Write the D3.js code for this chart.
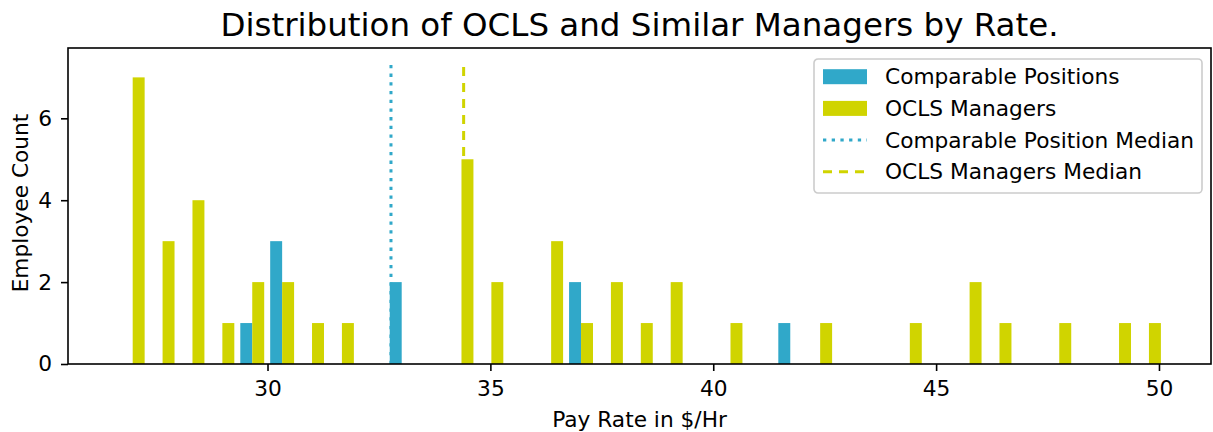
<!DOCTYPE html>
<html>
<head>
<meta charset="utf-8">
<script src="https://cdn.jsdelivr.net/npm/d3@7"></script>
<style>
  body { margin: 0; background: #fff; }
  svg { display: block; font-family: "DejaVu Sans", sans-serif; }
</style>
</head>
<body>
<div class="chart"></div>
<script>
// histogram bins (pay rate range split in equal bins)
const rateMin = 26.64;
const rateMax = 50.11;
const binTotal = 35;

const comparableCounts = [0,0,0,0,1,3,0,0,0,2,0,0,0,0,0,2,0,0,0,0,0,0,1,0,0,0,0,0,0,0,0,0,0,0,0];
const managerCounts = [7,3,4,1,2,2,1,1,0,0,0,5,2,0,3,1,2,1,2,0,1,0,0,1,0,0,1,0,2,1,0,1,0,1,1];

const comparableMedian = 32.77;
const managerMedian = 34.40;
const medianTop = 7.35;

const xTicks = [30, 35, 40, 45, 50];
const yTicks = [0, 2, 4, 6];

const blue = '#30a8c9';
const yellow = '#d0d400';
const fs = '21.7px';

const W = 1213, H = 432;
const margin = { top: 48, right: 2, bottom: 68, left: 68 };
const width = W - margin.left - margin.right;
const height = H - margin.top - margin.bottom;

const svg = d3.select('.chart').append('svg')
    .attr('width', W)
    .attr('height', H);

const g = svg.append('g')
    .attr('transform', `translate(${margin.left},${margin.top})`);

const x = d3.scaleLinear().domain([25.524, 51.167]).range([0, width]);
const y = d3.scaleLinear().domain([0, 7.7175]).range([height, 0]);

const binW = (rateMax - rateMin) / binTotal;
const bins = d3.range(binTotal).map(i => ({
    x0: rateMin + i * binW,
    x1: rateMin + (i + 1) * binW,
    comp: comparableCounts[i],
    ocls: managerCounts[i]
}));

// median lines (drawn under the bars)
g.append('line')
    .attr('x1', x(comparableMedian)).attr('x2', x(comparableMedian))
    .attr('y1', y(0)).attr('y2', y(medianTop))
    .attr('stroke', blue).attr('stroke-width', 3)
    .attr('stroke-dasharray', '3.3,5.4');

g.append('line')
    .attr('x1', x(managerMedian)).attr('x2', x(managerMedian))
    .attr('y1', y(0)).attr('y2', y(medianTop))
    .attr('stroke', yellow).attr('stroke-width', 3)
    .attr('stroke-dasharray', '9,7');

// bars
g.selectAll('.comp').data(bins.filter(d => d.comp > 0)).enter()
    .append('rect')
    .attr('class', 'comp')
    .attr('x', d => x(d.x0 + 0.1 * binW))
    .attr('width', d => x(d.x0 + 0.5 * binW) - x(d.x0 + 0.1 * binW))
    .attr('y', d => y(d.comp))
    .attr('height', d => y(0) - y(d.comp))
    .attr('fill', blue);

g.selectAll('.ocls').data(bins.filter(d => d.ocls > 0)).enter()
    .append('rect')
    .attr('class', 'ocls')
    .attr('x', d => x(d.x0 + 0.5 * binW))
    .attr('width', d => x(d.x0 + 0.9 * binW) - x(d.x0 + 0.5 * binW))
    .attr('y', d => y(d.ocls))
    .attr('height', d => y(0) - y(d.ocls))
    .attr('fill', yellow);

// axes
const xAxis = g.append('g')
    .attr('transform', `translate(0,${height})`)
    .call(d3.axisBottom(x).tickValues(xTicks).tickSize(7).tickPadding(9.5));
const yAxis = g.append('g')
    .call(d3.axisLeft(y).tickValues(yTicks).tickSize(7).tickPadding(9));

[xAxis, yAxis].forEach(a => {
    a.select('.domain').remove();
    a.selectAll('line').attr('stroke', '#000').attr('stroke-width', 1.6);
    a.selectAll('text')
        .style('font-family', '"DejaVu Sans", sans-serif')
        .style('font-size', fs)
        .attr('fill', '#000');
});

// frame
g.append('rect')
    .attr('width', width).attr('height', height)
    .attr('fill', 'none')
    .attr('stroke', '#000').attr('stroke-width', 1.6);

// labels
svg.append('text')
    .attr('x', margin.left + width / 2)
    .attr('y', 36)
    .attr('text-anchor', 'middle')
    .style('font-size', '32.5px')
    .text('Distribution of OCLS and Similar Managers by Rate.');

svg.append('text')
    .attr('x', margin.left + width / 2)
    .attr('y', 427)
    .attr('text-anchor', 'middle')
    .style('font-size', fs)
    .text('Pay Rate in $/Hr');

svg.append('text')
    .attr('transform', `translate(27.7,203) rotate(-90)`)
    .attr('text-anchor', 'middle')
    .style('font-size', fs)
    .text('Employee Count');

// legend
const legendItems = [
    { label: 'Comparable Positions', type: 'patch', color: blue },
    { label: 'OCLS Managers', type: 'patch', color: yellow },
    { label: 'Comparable Position Median', type: 'line', color: blue, dash: '3.3,5.4' },
    { label: 'OCLS Managers Median', type: 'line', color: yellow, dash: '9,7' }
];

const legend = svg.append('g').attr('transform', 'translate(814,59)');
legend.append('rect')
    .attr('width', 388).attr('height', 134)
    .attr('rx', 4)
    .attr('fill', '#fff').attr('fill-opacity', 0.8)
    .attr('stroke', '#cccccc').attr('stroke-width', 1.6);

legendItems.forEach((d, i) => {
    const cy = 17.7 + i * 31.7;
    const row = legend.append('g');
    if (d.type === 'patch') {
        row.append('rect')
            .attr('x', 9).attr('y', cy - 7.5)
            .attr('width', 44).attr('height', 15)
            .attr('fill', d.color);
    } else {
        row.append('line')
            .attr('x1', 9).attr('x2', 53)
            .attr('y1', cy).attr('y2', cy)
            .attr('stroke', d.color).attr('stroke-width', 3)
            .attr('stroke-dasharray', d.dash);
    }
    row.append('text')
        .attr('x', 71).attr('y', cy)
        .attr('dy', '0.35em')
        .style('font-size', fs)
        .text(d.label);
});
</script>
</body>
</html>
